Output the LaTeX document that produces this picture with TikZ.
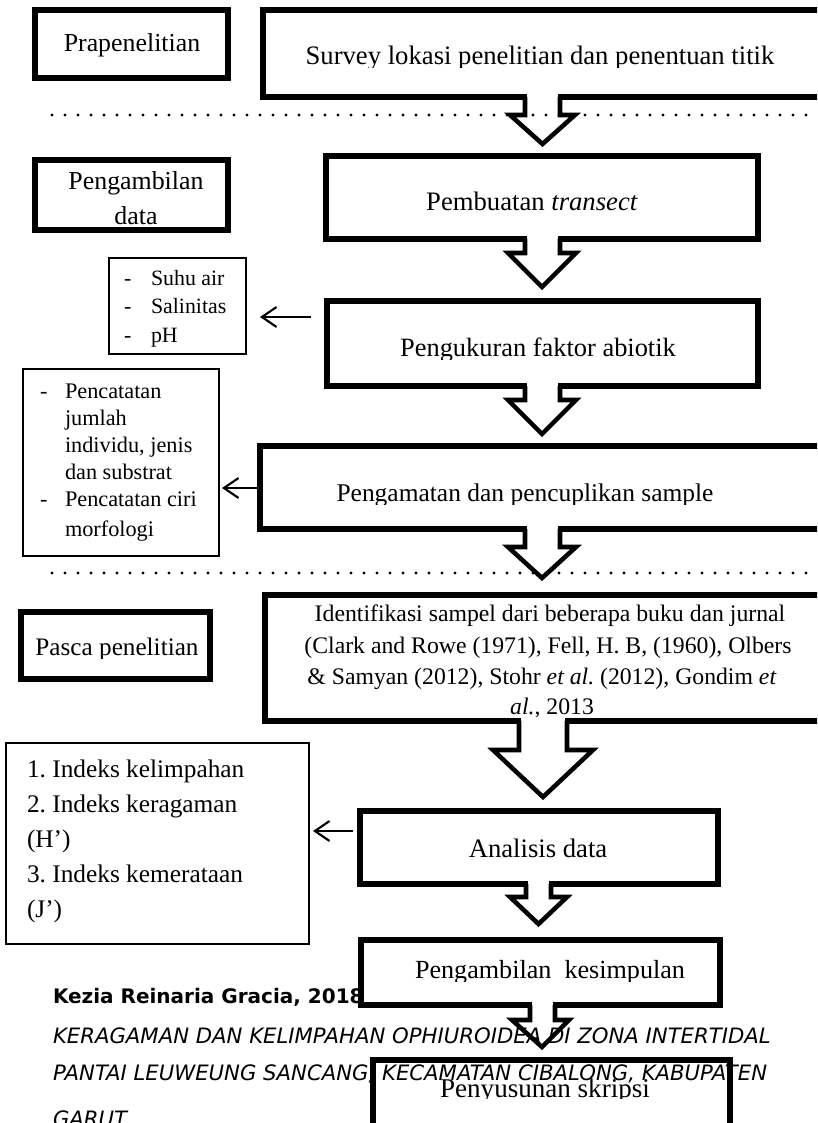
\documentclass[tikz,border=0pt]{standalone}
\usepackage{fontspec}
\setmainfont{Liberation Serif}
\newfontfamily\footfont{DejaVu Sans}
\usetikzlibrary{fit,arrows.meta}
\newcommand\fsz[1]{\fontsize{#1}{#1}\selectfont}
\frenchspacing
% block arrow: #1 box bottom y, #2 shaft left x, #3 shaft right x, #4 head y,
% #5 head left x, #6 head right x, #7 tip x, #8 tip y
\newcommand\blockarr[8]{%
  \fill[white] ({#2+2.4},{#1-4.2}) rectangle ({#3-2.4},{#1+4.2});
  \draw[blockarrow] (#2,#1) -- (#2,#4) -- (#5,#4) -- (#7,#8) -- (#6,#4) -- (#3,#4) -- (#3,#1);}
\begin{document}
\begin{tikzpicture}[x=0.75pt,y=-0.75pt,
  bigbox/.style={draw, line width=5pt, fill=white, inner sep=0pt, outer sep=0pt},
  smallbox/.style={draw, line width=2pt, fill=white, inner sep=0pt, outer sep=0pt},
  lbl/.style={inner sep=0pt, outer sep=0pt, anchor=base},
  lblw/.style={inner sep=0pt, outer sep=0pt, anchor=base west},
  blockarrow/.style={line width=3.4pt, line join=miter, miter limit=10},
  sidearrow/.style={line width=1.6pt, -{Straight Barb[length=11pt,width=15pt]}},
  dotline/.style={line width=2.5pt, line cap=round, dash pattern=on 0pt off 9.75pt},
  foot/.style={inner sep=0pt, outer sep=0pt, anchor=base west}
]
\useasboundingbox (0,0) rectangle (817,1123);
\fill[white] (0,0) rectangle (817,1123);
\clip (0,0) rectangle (817,1123);

% author line (lies under the boxes)
\node[foot, font=\footfont\bfseries\fsz{15}] (author) at (53,1003) {Kezia Reinaria Gracia, 2018};

% ---------- boxes ----------
\node[bigbox, fit={(35,10) (228,78)}] (pra) {};
\node[bigbox, fit={(263,10) (840,97)}] (survey) {};
\node[bigbox, fit={(35,160) (228,230)}] (ambil) {};
\node[bigbox, fit={(326,156) (758,239)}] (buat) {};
\node[smallbox, fit={(109,258) (246,354)}] (suhu) {};
\node[bigbox, fit={(327,301) (758,386)}] (ukur) {};
\node[smallbox, fit={(23,369) (219,556)}] (catat) {};
\node[bigbox, fit={(260,446) (840,529)}] (amati) {};
\node[bigbox, fit={(21,612) (210,679)}] (pasca) {};
\node[bigbox, fit={(265,595) (840,721)}] (ident) {};
\node[smallbox, fit={(6,743) (309,944)}] (indeks) {};
\node[bigbox, fit={(360,811) (718,884)}] (analisis) {};
\node[bigbox, fit={(361,940) (720,1005)}] (simpul) {};
\node[bigbox, fit={(373,1060) (730,1150)}] (susun) {};

% ---------- texts ----------
\node[lbl, font=\fsz{19.4}] (tpra) at (132,52) {Prapenelitian};
\begin{scope}
  \clip (263,10) rectangle (817,68);
  \node[lbl, font=\fsz{20}] (tsurvey) at (540,65) {Survey lokasi penelitian dan penentuan titik};
\end{scope}
\node[lbl, font=\fsz{19.4}] (tambil1) at (136,190) {Pengambilan};
\node[lbl, font=\fsz{19.4}] (tambil2) at (136,224) {data};
\node[lbl, font=\fsz{20}] (tbuat) at (532,211) {Pembuatan \textit{transect}};

\node[lblw, font=\fsz{16.4}] (sd1) at (124,285) {-};
\node[lblw, font=\fsz{16.4}] (sd2) at (124,313) {-};
\node[lblw, font=\fsz{16.4}] (sd3) at (124,342) {-};
\node[lblw, font=\fsz{16.4}] (st1) at (151,285) {Suhu air};
\node[lblw, font=\fsz{16.4}] (st2) at (151,313) {Salinitas};
\node[lblw, font=\fsz{16.4}] (st3) at (151,342) {pH};

\begin{scope}
  \clip (327,301) rectangle (758,359);
  \node[lbl, font=\fsz{19.8}] (tukur) at (538,356) {Pengukuran faktor abiotik};
\end{scope}

\node[lblw, font=\fsz{16.7}] (cd1) at (40,398.5) {-};
\node[lblw, font=\fsz{16.7}] (ct1) at (65,398.5) {Pencatatan};
\node[lblw, font=\fsz{16.7}] (ct2) at (65,425) {jumlah};
\node[lblw, font=\fsz{16.7}] (ct3) at (65,452) {individu, jenis};
\node[lblw, font=\fsz{16.7}] (ct4) at (65,479.5) {dan substrat};
\node[lblw, font=\fsz{16.7}] (cd2) at (40,506.5) {-};
\node[lblw, font=\fsz{16.7}] (ct5) at (65,506.5) {Pencatatan ciri};
\node[lblw, font=\fsz{16.7}] (ct6) at (65,536.5) {morfologi};

\begin{scope}
  \clip (260,446) rectangle (817,504);
  \node[lbl, font=\fsz{19.1}] (tamati) at (525,501) {Pengamatan dan pencuplikan sample};
\end{scope}

\begin{scope}
  \clip (21,612) rectangle (210,658);
  \node[lbl, font=\fsz{18.9}] (tpasca) at (117,655) {Pasca penelitian};
\end{scope}

\node[lbl, font=\fsz{17.8}] (ti1) at (550,621) {Identifikasi sampel dari beberapa buku dan jurnal};
\node[lbl, font=\fsz{17.8}] (ti2) at (548,653) {(Clark and Rowe (1971), Fell, H. B, (1960), Olbers};
\node[lbl, font=\fsz{17.8}] (ti3) at (542,684) {\& Samyan (2012), Stohr \textit{et al.} (2012), Gondim \textit{et}};
\node[lbl, font=\fsz{17.8}] (ti4) at (552,714.5) {\textit{al.}, 2013};

\node[lblw, font=\fsz{19}] (tk1) at (27,777) {1. Indeks kelimpahan};
\node[lblw, font=\fsz{19}] (tk2) at (27,812) {2. Indeks keragaman};
\node[lblw, font=\fsz{19}] (tk3) at (27,847) {(H’)};
\node[lblw, font=\fsz{19}] (tk4) at (27,882) {3. Indeks kemerataan};
\node[lblw, font=\fsz{19}] (tk5) at (27,917) {(J’)};

\node[lbl, font=\fsz{20}] (tanalisis) at (538,857) {Analisis data};

\begin{scope}
  \clip (361,940) rectangle (720,981);
  \node[lbl, font=\fsz{19.6}] (tsimpul) at (550,978) {Pengambilan\ \ kesimpulan};
\end{scope}

\begin{scope}
  \clip (373,1060) rectangle (730,1098);
  \node[lbl, font=\fsz{20.3}] (tsusun) at (545,1097) {Penyusunan skripsi};
\end{scope}

% ---------- dotted separators ----------
\coordinate (d1a) at (52,115); \coordinate (d1b) at (817,115);
\coordinate (d2a) at (52,573); \coordinate (d2b) at (817,573);
\draw[dotline] (d1a) -- (d1b);
\draw[dotline] (d2a) -- (d2b);

% ---------- block arrows ----------
\blockarr{97}{525}{560}{115}{510}{575}{542.5}{144}
\blockarr{238.7}{525}{560}{253}{508}{576}{542}{287}
\blockarr{386}{525}{560}{400}{508}{576}{542}{434}
\blockarr{529}{525}{560}{547}{508}{576}{542}{578}
\blockarr{721}{519}{567}{750}{493}{593}{543}{797}
\blockarr{884}{526}{551}{897}{510}{567}{538.5}{924}
\blockarr{1005}{530}{555}{1020}{512}{569}{542}{1047}

% ---------- side arrows ----------
\coordinate (a1s) at (311,317); \coordinate (a1e) at (260,317);
\coordinate (a2s) at (258,488); \coordinate (a2e) at (222,488);
\coordinate (a3s) at (353,831); \coordinate (a3e) at (313,831);
\draw[sidearrow] (a1s) -- (a1e);
\draw[sidearrow] (a2s) -- (a2e);
\draw[sidearrow] (a3s) -- (a3e);

% ---------- title lines (on top) ----------
\node[foot, font=\footfont\itshape\fsz{15.9}] (judul1) at (53,1043) {KERAGAMAN DAN KELIMPAHAN OPHIUROIDEA DI ZONA INTERTIDAL};
\node[foot, font=\footfont\itshape\fsz{15.9}] (judul2) at (53,1080) {PANTAI LEUWEUNG SANCANG, KECAMATAN CIBALONG, KABUPATEN};
\node[foot, font=\footfont\itshape\fsz{15.9}] (judul3) at (53,1126) {GARUT};
\end{tikzpicture}
\end{document}
